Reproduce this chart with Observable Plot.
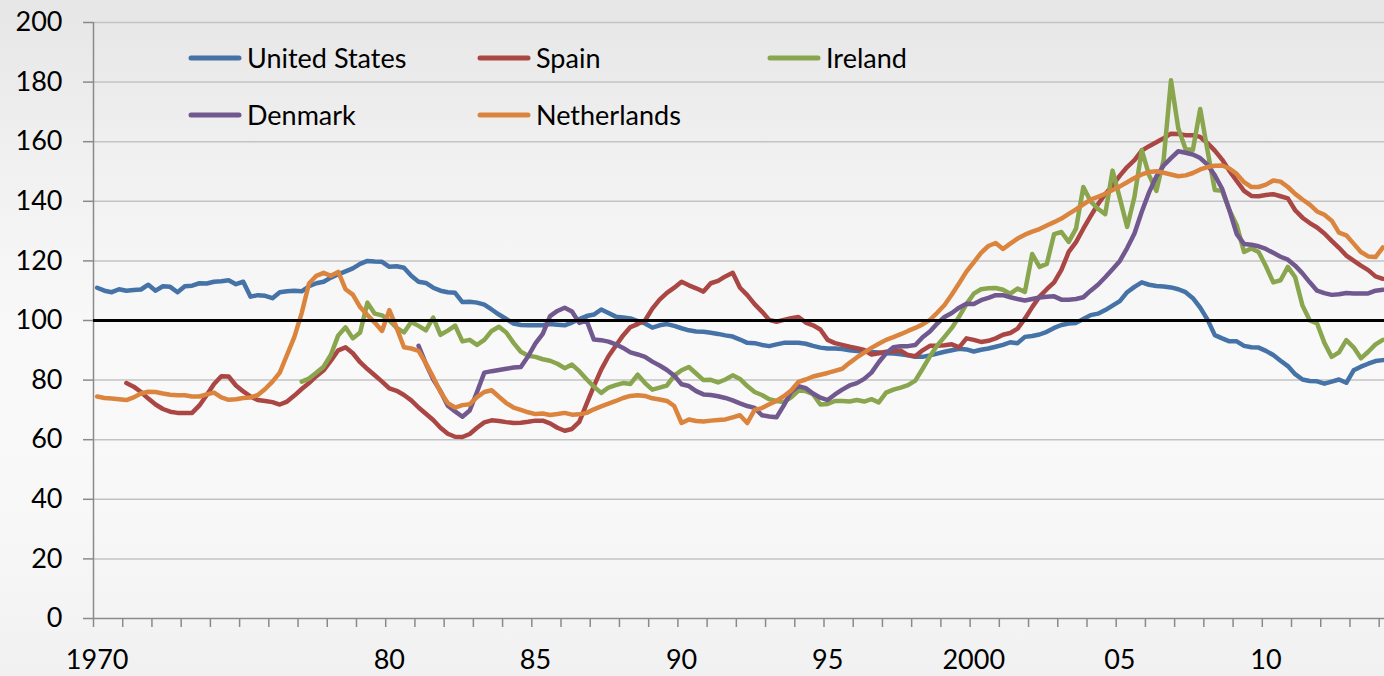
<!DOCTYPE html>
<html><head><meta charset="utf-8">
<script src="https://cdn.jsdelivr.net/npm/d3@7"></script>
<script src="https://cdn.jsdelivr.net/npm/@observablehq/plot@0.6"></script>
<style>
body{margin:0;}
#wrap{position:relative;width:1384px;height:676px;overflow:hidden;
 background:linear-gradient(to bottom,#e6e6e6 0%,#f1f1f1 25%,#f9f9f9 50%,#f8f8f8 75%,#f1f1f1 100%);
 font-family:Lato,sans-serif;}
.leg{position:absolute;display:flex;align-items:center;font-size:27px;line-height:32px;height:32px;color:#000;white-space:nowrap;}
.leg svg{margin-right:5px;display:block;}
</style></head><body><div id="wrap"></div>
<script>
// ---- data (quarterly index, first value at the given start quarter from 1970Q1) ----
const firstYear = 1970;
const seriesNames = ["United States","Spain","Ireland","Denmark","Netherlands"];
const seriesColors = ["#4572a7","#aa4643","#89a54e","#71588f","#db843d"];
const seriesStart = [0, 4, 28, 44, 0];

const unitedStates = [111,110,109.5,110.5, 110,110.2,110.4,112, 110,111.5,111.3,109.5, 111.5,111.7,112.5,112.4,
 113,113.2,113.5,112.2, 113,108,108.5,108.3, 107.5,109.5,109.8,110, 109.8,111.5,112.5,113,
 114.4,115.5,116.5,117.5, 119,120,119.8,119.7, 118,118.2,117.7,115, 113,112.6,111,110,
 109.5,109.3,106.2,106.3, 106,105.3,103.7,102, 100.5,99,98.5,98.4, 98.4,98.4,98.8,98.6,
 98.4,99.3,100.5,101.5, 102,103.7,102.5,101.3, 101,100.7,99.8,99, 97.6,98.4,98.8,98.2,
 97.4,96.7,96.3,96.2, 95.9,95.5,95,94.6, 93.6,92.5,92.4,91.8, 91.4,92,92.5,92.5,
 92.5,92.2,91.5,90.9, 90.6,90.6,90.4,90, 89.8,89.6,89.4,89.3, 89,88.9,88.7,88.3,
 87.8,87.8,88.3,88.9, 89.5,90,90.5,90.3, 89.6,90.2,90.6,91.2, 91.8,92.7,92.4,94.5,
 94.8,95.3,96.2,97.5, 98.5,99,99.2,100.5, 101.8,102.3,103.5,105, 106.5,109.5,111.3,112.8,
 112,111.6,111.4,111.1, 110.5,109.5,107.5,104.3, 100.3,95.1,94,93, 93,91.5,91,90.9,
 89.8,88.4,86.5,84.7, 82,80.2,79.7,79.6, 78.8,79.5,80.2,79.1, 83.3,84.5,85.5,86.4, 86.7];

const spain = [79,77.8,76,73.8, 71.8,70.3,69.4,69, 69,69,71.5,75, 78.7,81.3,81.2,78.2,
 76.2,74.5,73.3,73, 72.6,71.8,72.8,74.8, 77,79,81.3,83.3, 86.5,90,91,89,
 86,83.7,81.6,79.5, 77.2,76.4,75,73.2, 70.8,68.7,66.6,64, 62,61,60.9,61.9,
 64,65.8,66.5,66.3, 65.9,65.6,65.7,66, 66.4,66.4,65.5,64, 63,63.6,66,72,
 78,83.5,88,91.5, 95,97.8,98.8,100, 104,107,109.3,111, 113,111.8,110.8,109.7,
 112.5,113.3,114.8,116, 111,108.5,105.5,103, 100.2,99.6,100.2,100.8, 101.2,99.3,98.4,97,
 93.5,92.4,91.8,91.2, 90.7,90.1,88.6,89, 89.5,89.6,89.9,88.4, 88,90,91.5,91.5,
 91.7,92,91,94, 93.5,92.8,93.2,94, 95.2,95.8,97.3,100.6, 104.5,108,110.5,112.8,
 117,123,126.3,130.8, 135,139,142.4,145.3, 148.6,151.5,153.8,157, 158.5,159.8,161.2,162.7,
 162.6,162.2,162.2,161.6, 159.5,157,154,150.2, 146.8,143.5,141.8,141.7, 142.1,142.4,141.7,141,
 137,134.5,132.7,131.2, 129.2,126.7,124.4,121.8, 120.1,118.4,116.9,114.8, 114];

const ireland = [79.5,80.5,82.5,84.5, 88.5,95,97.7,94, 96,106,102.3,101.7, 100,97.5,96,99.5,
 98.2,96.7,101,95.2, 96.6,98.3,93,93.5, 91.8,93.5,96.5,97.9, 96,92.5,89.5,88.2,
 87.8,87,86.5,85.5, 84,85.2,83,80.3, 77.8,75.7,77.5,78.3, 79,78.7,81.8,79,
 76.8,77.5,78.2,81.5, 83.3,84.4,82.2,80, 80.1,79.2,80.2,81.6, 80.4,78,76,75,
 73.6,73,72.6,74.2, 76.5,76.3,75.3,71.8, 72,73,73,72.8, 73.3,72.8,73.6,72.5,
 75.8,76.8,77.5,78.3, 79.8,83.8,88,91.6, 94.5,97.5,101.3,105.5, 109,110.5,110.8,110.9,
 110.3,109,110.7,109.6, 122.3,118,119,129, 129.7,126.4,130.8,144.8, 140,137.5,135.7,150.3,
 141,131.4,141.5,157.2, 148.8,143.5,154,180.6, 164.5,157.5,157.3,171, 157,143.8,143.5,137,
 132,123,124.2,123, 118.2,112.8,113.5,118, 114.5,105,100,99, 92.5,87.8,89.3,93.4,
 91,87.3,89.5,92, 93.5];

const denmark = [91.5,85.5,80.3,76.3, 71.4,69.5,67.7,69.8, 76,82.5,83,83.4, 83.8,84.2,84.4,88,
 92.3,95.5,101.5,103.2, 104.3,103,99.2,100, 93.6,93.4,92.9,92, 90.8,89.3,88.6,87.8,
 86.2,84.9,83.4,81.5, 78.6,78,76.3,75.2, 75,74.6,74,73.2, 72.2,71.3,70.7,68.2,
 67.8,67.5,71.5,76, 78,77.3,75.5,74.1, 73.3,75.2,76.8,78.2, 79,80.4,82.5,86,
 89,91,91.4,91.4, 91.8,94.4,96.3,99, 101.2,102.5,104.3,105.6, 105.5,106.8,107.6,108.5,
 108.5,107.8,107.2,106.7, 107.2,107.7,108,108.1, 107,107,107.2,107.8, 110,112,114.5,117.2,
 120,124.3,129.2,136.5, 143,148.3,152,154.5, 156.8,156.3,155.7,154.5, 152.3,148.7,144.2,137,
 129,125.7,125.4,124.9, 124,122.7,121.4,120.4, 118.4,115.8,112.8,110, 109.2,108.6,108.8,109.2,
 109.1,109.1,109.1,110, 110.3];

const netherlands = [74.5,74,73.8,73.6, 73.3,74.2,75.5,76.1, 76,75.5,75.1,74.9, 74.9,74.5,74.5,75.2,
 75.8,74.2,73.4,73.6, 74,74.2,75,77, 79.5,82.5,88.5,94.5, 102.5,112.4,115,116,
 115,116.3,110.5,108.7, 104.5,101.8,99.3,96.5, 103.5,97.5,91,90.6, 89.8,85.6,81,76,
 72.3,70.8,71.6,71.9, 74.3,76,76.6,74.4, 72.3,70.8,70,69.2, 68.6,68.8,68.3,68.6,
 69,68.4,68.5,69, 70.2,71.2,72.1,73, 74,74.7,74.9,74.7, 73.9,73.5,73,71.3,
 65.6,66.8,66.3,66.1, 66.4,66.6,66.8,67.5, 68.2,65.6,70,70.6, 71.9,73,74.6,76.5,
 79.4,80.2,81.2,81.8, 82.4,83.1,83.8,85.8, 87.6,89.2,90.8,92.2, 93.5,94.4,95.4,96.5,
 97.5,98.7,100.2,102.6, 105.2,108.7,112.5,116.4, 119.5,122.7,125,126, 124,125.8,127.5,128.8,
 129.8,130.7,131.9,133, 134.2,135.8,137.3,139, 140.6,141.5,142.5,143.8, 145,146.4,147.8,149,
 149.8,150.1,149.6,149, 148.4,148.7,149.5,150.7, 151.5,151.9,152,151, 149.2,146.4,144.8,144.8,
 145.6,147,146.6,144.8, 142.5,140.6,138.9,136.6, 135.5,133.5,129.5,128.6, 125.8,123,121.5,121.3, 124.5];

const seriesValues = [unitedStates, spain, ireland, denmark, netherlands];

const yTicks = [0,20,40,60,80,100,120,140,160,180,200];
const labelYears = [1970,1980,1985,1990,1995,2000,2005,2010];
const labelTexts = ["1970","80","85","90","95","2000","05","10"];
const referenceLevel = [100];

// ---- build table ----
const rows = [];
seriesValues.forEach((vals, s) => {
  vals.forEach((v, k) => rows.push({s: seriesNames[s], t: firstYear + (seriesStart[s] + k + 0.5) / 4, v}));
});
const yearTicks = d3.range(1970, 2015);
const labelPos = labelYears.map(y => y + 0.125);
const labelMap = new Map(labelPos.map((p, i) => [p, labelTexts[i]]));
const xMax = 1970 + 1291 / 29.22;

const axisGray = "#8a8a8a";
const chart = Plot.plot({
  width: 1384, height: 676,
  marginLeft: 93, marginRight: 0, marginTop: 22, marginBottom: 58,
  style: {background: "transparent", fontFamily: "Lato, sans-serif", overflow: "visible"},
  x: {domain: [1970, xMax]},
  y: {domain: [0, 200]},
  color: {domain: seriesNames, range: seriesColors},
  marks: [
    Plot.gridY(yTicks.filter(d => d > 0), {stroke: "#c3c3c3", strokeOpacity: 1, strokeWidth: 1.5}),
    Plot.axisY({ticks: yTicks, tickSize: 10, tickPadding: 21, fontSize: 27, stroke: axisGray, fill: "#000", strokeWidth: 1.5, label: null}),
    Plot.axisX({ticks: yearTicks, tickSize: 9, tickFormat: () => "", stroke: axisGray, strokeWidth: 1.5, label: null}),
    Plot.axisX({ticks: labelPos, tickSize: 0, tickPadding: 31, fontSize: 27, fill: "#000", tickFormat: d => labelMap.get(d), label: null}),
    Plot.ruleY([0], {stroke: axisGray, strokeWidth: 1.5}),
    Plot.ruleX([1970], {stroke: axisGray, strokeWidth: 1.5}),
    Plot.line(rows, {x: "t", y: "v", z: "s", stroke: "s", strokeWidth: 4.5, strokeLinejoin: "round", strokeLinecap: "round", clip: true}),
    Plot.ruleY(referenceLevel, {stroke: "#000", strokeWidth: 3})
  ]
});
const wrap = document.getElementById("wrap");
wrap.appendChild(chart);

// ---- legend (inside plot area, 3 columns) ----
const legCols = [188, 477, 767], legRows = [42, 99];
seriesNames.forEach((name, i) => {
  const d = document.createElement("div");
  d.className = "leg";
  d.style.left = legCols[i % 3] + "px";
  d.style.top = legRows[Math.floor(i / 3)] + "px";
  d.innerHTML = `<svg width="54" height="32"><line x1="3" x2="51" y1="16" y2="16" stroke="${seriesColors[i]}" stroke-width="5" stroke-linecap="round"/></svg><span>${name}</span>`;
  wrap.appendChild(d);
});
</script></body></html>
